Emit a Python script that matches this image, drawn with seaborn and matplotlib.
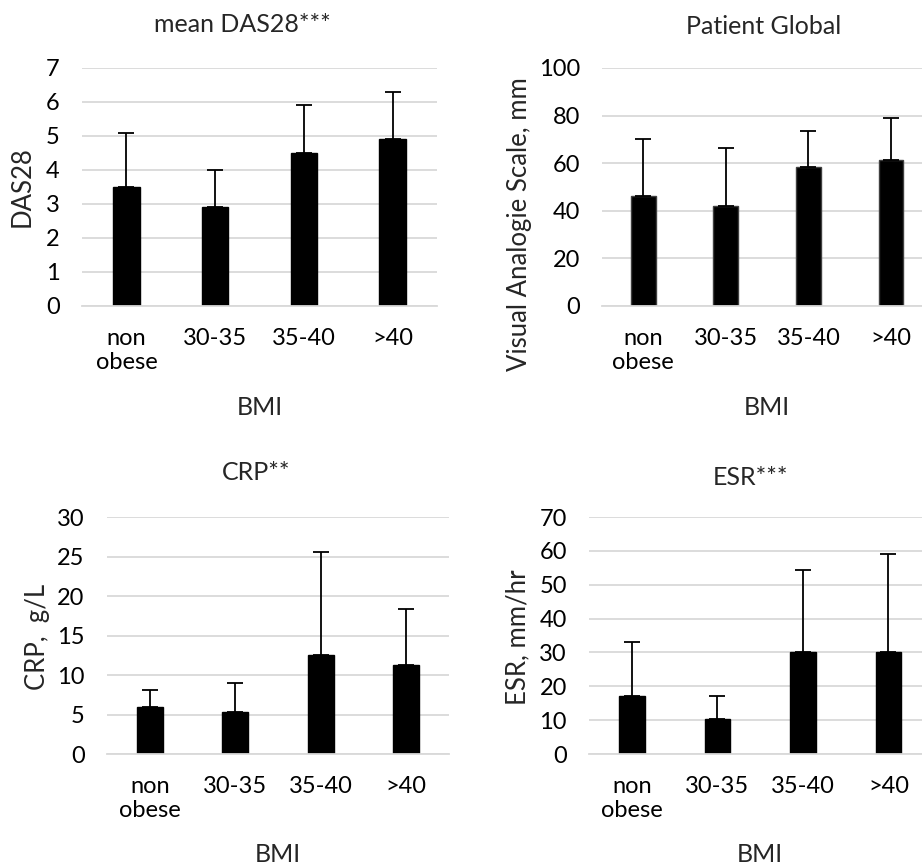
import matplotlib
matplotlib.use("Agg")
import matplotlib.pyplot as plt
import pandas as pd
import seaborn as sns

sns.set_style("white")
plt.rcParams["font.family"] = ["Lato", "DejaVu Sans"]

bmi_groups = ["non\nobese", "30-35", "35-40", ">40"]

das28_mean = [3.5, 2.9, 4.5, 4.9]
das28_sd = [1.6, 1.1, 1.4, 1.4]

vas_mean = [46, 42, 58.5, 61.5]
vas_sd = [24, 24.5, 15, 17.5]

crp_mean = [6.0, 5.3, 12.5, 11.3]
crp_sd = [2.1, 3.7, 13.1, 7.0]

esr_mean = [17, 10.3, 30.2, 30]
esr_sd = [16, 6.7, 24.1, 29]

panels = [
    dict(mean=das28_mean, sd=das28_sd, title="mean DAS28***", ylabel="DAS28",
         ymax=7, step=1, rect=[0.089, 0.6475, 0.385, 0.2742],
         title_xy=(242, 25), xlab_xy=(260, 408), ylab_xy=(22, 187), ticks=False),
    dict(mean=vas_mean, sd=vas_sd, title="Patient Global", ylabel="Visual Analogie Scale, mm",
         ymax=100, step=20, rect=[0.653, 0.6475, 0.358, 0.2742],
         title_xy=(764, 27), xlab_xy=(767, 408), ylab_xy=(520, 224), ticks=True),
    dict(mean=crp_mean, sd=crp_sd, title="CRP**", ylabel="CRP,  g/L",
         ymax=30, step=5, rect=[0.116, 0.1313, 0.371, 0.273],
         title_xy=(256, 472), xlab_xy=(278, 855), ylab_xy=(37, 637), ticks=False),
    dict(mean=esr_mean, sd=esr_sd, title="ESR***", ylabel="ESR, mm/hr",
         ymax=70, step=10, rect=[0.639, 0.1313, 0.371, 0.273],
         title_xy=(750, 477), xlab_xy=(760, 855), ylab_xy=(518, 637), ticks=False),
]

W, H = 922, 868
fig = plt.figure(figsize=(W / 100, H / 100), dpi=100)

for p in panels:
    ax = fig.add_axes(p["rect"])
    df = pd.DataFrame({"BMI": bmi_groups, "value": p["mean"]})
    sns.barplot(data=df, x="BMI", y="value", ax=ax, color="black", width=0.3,
                errorbar=None, saturation=1,
                edgecolor="#404040" if p["ticks"] else "black", linewidth=1)
    ax.errorbar(range(len(bmi_groups)), p["mean"],
                yerr=[[0] * len(p["sd"]), p["sd"]], fmt="none",
                ecolor="black", elinewidth=1.3, capsize=6, capthick=1.3)
    ax.set_ylim(0, p["ymax"])
    ax.set_xlim(-0.5, 3.5)
    ax.set_yticks(range(0, p["ymax"] + 1, p["step"]))
    ax.yaxis.grid(True, color="#d9d9d9", linewidth=1.3)
    ax.set_axisbelow(True)
    for s in ["top", "right", "left"]:
        ax.spines[s].set_visible(False)
    ax.spines["bottom"].set_color("#d9d9d9")
    ax.spines["bottom"].set_linewidth(1.3)
    ax.tick_params(axis="both", length=0, labelsize=17, colors="black")
    ax.tick_params(axis="y", pad=16)
    ax.tick_params(axis="x", pad=16)
    if p["ticks"]:
        ax.set_xticks([-0.5, 0.5, 1.5, 2.5, 3.5], minor=True)
        ax.tick_params(axis="x", which="minor", length=7, color="#d9d9d9", width=1.3)
    ax.set_xlabel("")
    ax.set_ylabel("")
    for lab in ax.get_xticklabels():
        lab.set_linespacing(1.15)

    fig.text(p["title_xy"][0] / W, 1 - p["title_xy"][1] / H, p["title"],
             ha="center", va="center", fontsize=18)
    fig.text(p["xlab_xy"][0] / W, 1 - p["xlab_xy"][1] / H, "BMI",
             ha="center", va="center", fontsize=18)
    fig.text(p["ylab_xy"][0] / W, 1 - p["ylab_xy"][1] / H, p["ylabel"],
             ha="center", va="center", rotation=90, fontsize=18.5)

fig.savefig("out.png", dpi=100)
